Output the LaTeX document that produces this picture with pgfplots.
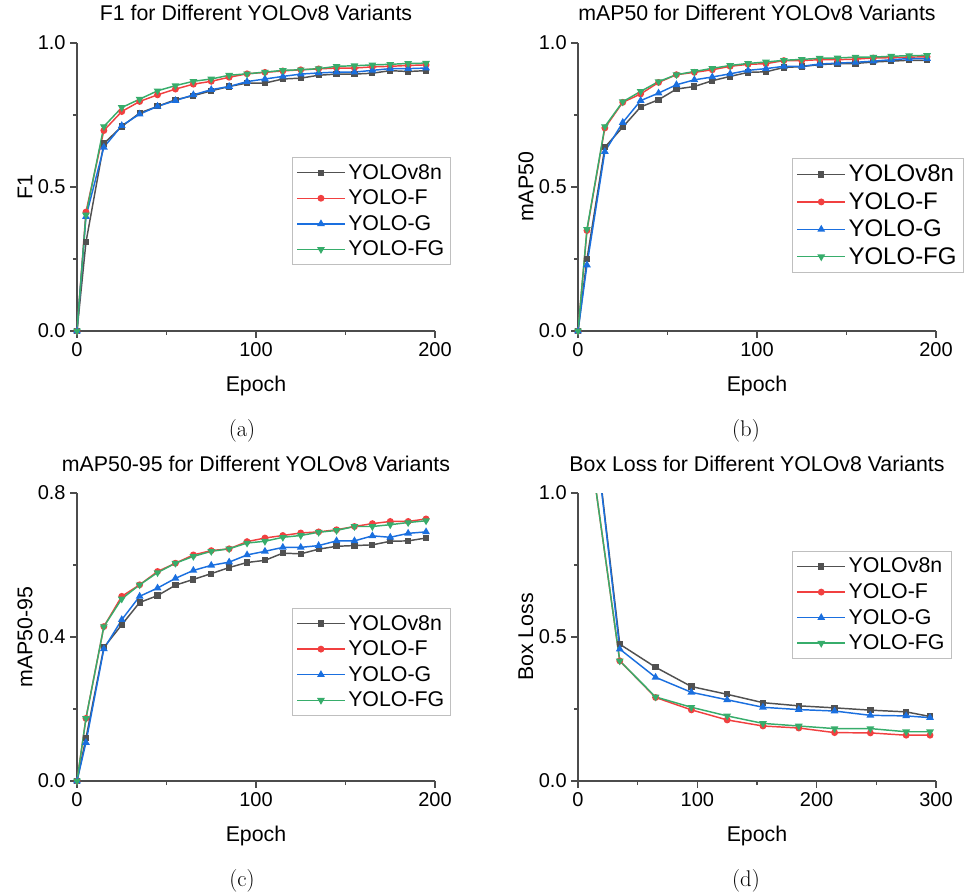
\documentclass[border=0pt]{standalone}
\usepackage{fontspec}
\usepackage{pgfplots}
\usepackage{pgfplotstable}
\pgfplotsset{compat=1.18}
\newfontfamily\arial{Liberation Sans}
\definecolor{cK}{HTML}{515151}
\definecolor{cR}{HTML}{F14040}
\definecolor{cB}{HTML}{1A6FDF}
\definecolor{cG}{HTML}{37AD6B}

\pgfplotstableread{
x K R B G
0 0 0 0 0
5 0.308 0.413 0.397 0.403
15 0.651 0.696 0.638 0.710
25 0.710 0.762 0.713 0.776
35 0.757 0.797 0.753 0.805
45 0.780 0.820 0.780 0.834
55 0.803 0.840 0.800 0.852
65 0.817 0.857 0.820 0.867
75 0.834 0.867 0.838 0.875
85 0.849 0.881 0.849 0.888
95 0.861 0.893 0.866 0.893
105 0.861 0.898 0.875 0.899
115 0.875 0.903 0.884 0.905
125 0.878 0.907 0.892 0.907
135 0.888 0.910 0.896 0.911
145 0.892 0.913 0.899 0.919
155 0.892 0.913 0.899 0.921
165 0.895 0.917 0.905 0.924
175 0.904 0.919 0.911 0.926
185 0.901 0.922 0.911 0.929
195 0.904 0.924 0.913 0.930
}\dataA

\pgfplotstableread{
x K R B G
0 0 0 0 0
5 0.249 0.349 0.229 0.353
15 0.638 0.705 0.623 0.710
25 0.708 0.794 0.724 0.796
35 0.778 0.823 0.800 0.832
45 0.803 0.863 0.826 0.866
55 0.840 0.890 0.855 0.890
65 0.849 0.898 0.872 0.901
75 0.869 0.907 0.882 0.912
85 0.884 0.919 0.893 0.922
95 0.898 0.926 0.905 0.929
105 0.900 0.928 0.911 0.934
115 0.915 0.939 0.919 0.940
125 0.918 0.939 0.919 0.943
135 0.925 0.942 0.927 0.947
145 0.928 0.942 0.930 0.948
155 0.929 0.944 0.933 0.951
165 0.934 0.948 0.937 0.951
175 0.937 0.949 0.942 0.954
185 0.940 0.951 0.946 0.956
195 0.940 0.952 0.946 0.957
}\dataB

\pgfplotstableread{
x K R B G
0 0 0 0 0
5 0.119 0.174 0.107 0.174
15 0.371 0.429 0.367 0.429
25 0.434 0.513 0.448 0.506
35 0.496 0.545 0.513 0.545
45 0.515 0.582 0.536 0.579
55 0.544 0.605 0.563 0.605
65 0.560 0.628 0.585 0.624
75 0.576 0.640 0.599 0.638
85 0.593 0.645 0.608 0.645
95 0.607 0.665 0.628 0.661
105 0.613 0.675 0.638 0.666
115 0.633 0.682 0.649 0.677
125 0.631 0.689 0.649 0.682
135 0.644 0.692 0.654 0.691
145 0.652 0.698 0.667 0.696
155 0.654 0.707 0.667 0.707
165 0.656 0.715 0.681 0.707
175 0.666 0.721 0.677 0.712
185 0.667 0.721 0.688 0.718
195 0.675 0.728 0.692 0.723
}\dataC

\pgfplotstableread{
x K R B G
5 1.54 1.31 1.54 1.31
35 0.475 0.417 0.458 0.417
65 0.395 0.290 0.360 0.292
95 0.328 0.247 0.308 0.256
125 0.301 0.212 0.282 0.226
155 0.272 0.191 0.256 0.200
185 0.261 0.184 0.248 0.191
215 0.254 0.168 0.243 0.182
245 0.246 0.167 0.228 0.182
275 0.240 0.159 0.226 0.171
295 0.224 0.159 0.220 0.171
}\dataD

\pgfplotsset{
  panel/.style={
    scale only axis, width=268.5pt, height=216pt,
    axis x line*=bottom, axis y line*=left,
    axis line style={-, line width=1pt, color=black!70},
    every tick/.style={line width=0.8pt, color=black!70},
    tick align=outside,
    major tick length=5pt, minor tick length=3pt,
    minor x tick num=1, minor y tick num=1,
    tick label style={font=\arial\fontsize{15}{18}\selectfont},
    label style={font=\arial\fontsize{16}{19}\selectfont},
    title style={font=\arial\fontsize{16}{19}\selectfont, at={(axis description cs:0.5,1)}, anchor=base, yshift=10.5pt},
    /pgf/number format/assume math mode=true,
    yticklabel style={/pgf/number format/fixed, /pgf/number format/precision=1, /pgf/number format/fixed zerofill},
    xlabel=Epoch,
    xlabel style={at={(axis description cs:0.5,0)}, anchor=base, yshift=-45.5pt},
    ylabel style={at={(axis description cs:0,0.5)}, anchor=center, rotate=0, yshift=39pt},
    legend cell align=left,
    legend style={draw=black!25, line width=0.8pt, font=\arial\fontsize{16}{19}\selectfont, anchor=north west, row sep=2.5pt, inner ysep=3pt},
    legend image code/.code={\draw[mark repeat=2,mark phase=2] plot coordinates {(0cm,0cm) (0.63cm,0cm) (1.26cm,0cm)};},
    every axis plot/.append style={line width=1.1pt, mark size=2pt},
  },
  pK/.style={color=cK, mark=square*, mark size=1.8pt},
  pR/.style={color=cR, mark=*},
  pB/.style={color=cB, mark=triangle*, mark size=2.3pt},
  pG/.style={color=cG, mark=triangle*, mark size=2.3pt, mark options={rotate=180}},
}

\begin{document}
\begin{tikzpicture}
\path[use as bounding box] (0,0) rectangle (726pt,670.5pt);

\begin{axis}[panel, at={(57.75pt,422.25pt)}, anchor=south west,
  title={F1 for Different YOLOv8 Variants}, ylabel={F1},
  xmin=0, xmax=200, ymin=0, ymax=1, xtick={0,100,200}, ytick={0,0.5,1},
  legend style={at={(axis description cs:0.60,0.604)}}]
\addplot[pK] table[x=x,y=K]{\dataA};
\addplot[pR] table[x=x,y=R]{\dataA};
\addplot[pB] table[x=x,y=B]{\dataA};
\addplot[pG] table[x=x,y=G]{\dataA};
\legend{YOLOv8n,YOLO-F,YOLO-G,YOLO-FG}
\end{axis}

\begin{axis}[panel, at={(433.5pt,422.25pt)}, anchor=south west,
  title={mAP50 for Different YOLOv8 Variants}, ylabel={mAP50},
  xmin=0, xmax=200, ymin=0, ymax=1, xtick={0,100,200}, ytick={0,0.5,1},
  legend style={at={(axis description cs:0.598,0.601)}, font=\arial\fontsize{18}{21}\selectfont}]
\addplot[pK] table[x=x,y=K]{\dataB};
\addplot[pR] table[x=x,y=R]{\dataB};
\addplot[pB] table[x=x,y=B]{\dataB};
\addplot[pG] table[x=x,y=G]{\dataB};
\legend{YOLOv8n,YOLO-F,YOLO-G,YOLO-FG}
\end{axis}

\begin{axis}[panel, at={(57.75pt,84.75pt)}, anchor=south west,
  title={mAP50-95 for Different YOLOv8 Variants}, ylabel={mAP50-95},
  xmin=0, xmax=200, ymin=0, ymax=0.8, xtick={0,100,200}, ytick={0,0.4,0.8},
  legend style={at={(axis description cs:0.60,0.601)}}]
\addplot[pK] table[x=x,y=K]{\dataC};
\addplot[pR] table[x=x,y=R]{\dataC};
\addplot[pB] table[x=x,y=B]{\dataC};
\addplot[pG] table[x=x,y=G]{\dataC};
\legend{YOLOv8n,YOLO-F,YOLO-G,YOLO-FG}
\end{axis}

\begin{axis}[panel, at={(433.5pt,84.75pt)}, anchor=south west,
  title={Box Loss for Different YOLOv8 Variants}, ylabel={Box Loss},
  xmin=0, xmax=300, ymin=0, ymax=1, xtick={0,100,200,300}, ytick={0,0.5,1},
  legend style={at={(axis description cs:0.598,0.799)}}]
\addplot[pK] table[x=x,y=K]{\dataD};
\addplot[pR] table[x=x,y=R]{\dataD};
\addplot[pB] table[x=x,y=B]{\dataD};
\addplot[pG] table[x=x,y=G]{\dataD};
\legend{YOLOv8n,YOLO-F,YOLO-G,YOLO-FG}
\end{axis}

\node[font=\fontsize{17}{20}\selectfont] at (181.5pt,347.25pt) {(a)};
\node[font=\fontsize{17}{20}\selectfont] at (559.5pt,347.25pt) {(b)};
\node[font=\fontsize{17}{20}\selectfont] at (181.5pt,9.75pt) {(c)};
\node[font=\fontsize{17}{20}\selectfont] at (559.5pt,9.75pt) {(d)};
\end{tikzpicture}
\end{document}
